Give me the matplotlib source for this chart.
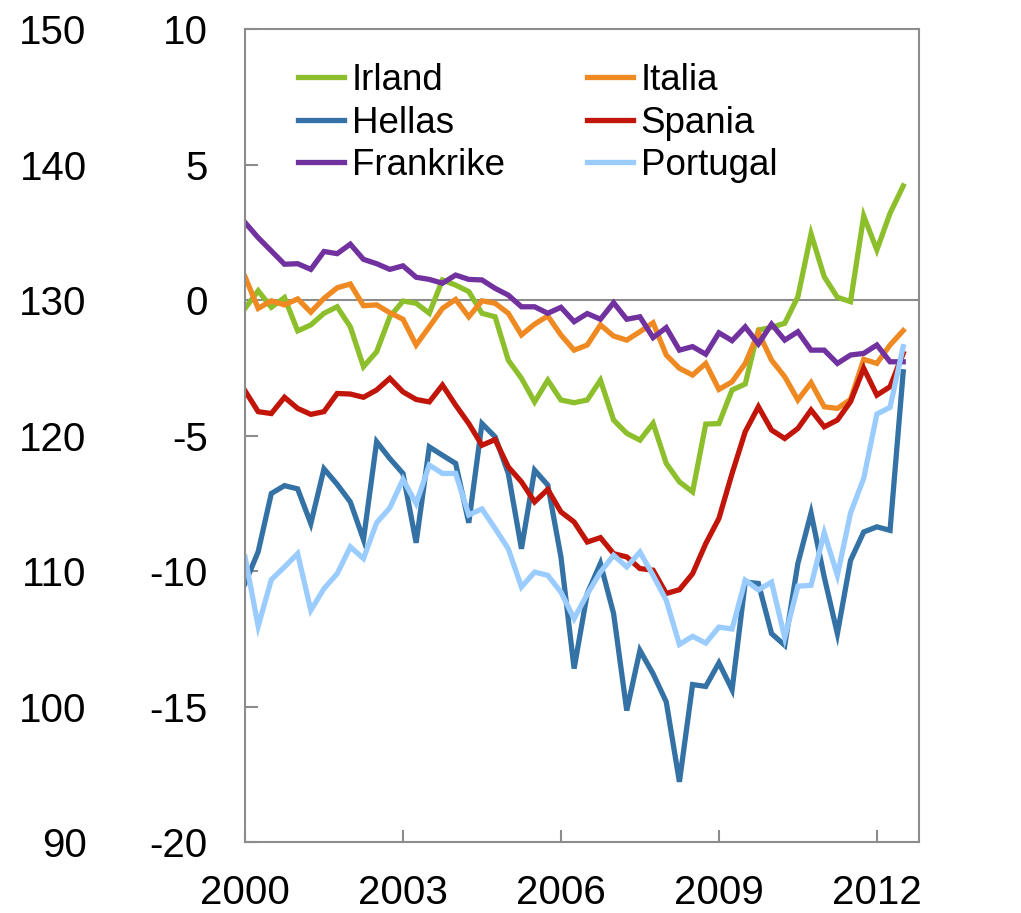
import numpy as np
import matplotlib
matplotlib.use('Agg')
import matplotlib.pyplot as plt

plt.rcParams['font.family'] = ['Liberation Sans', 'DejaVu Sans']
plt.rcParams['axes.unicode_minus'] = False

# quarterly, 2000Q1 - 2012Q3
quarters = 2000 + np.arange(51) / 4

irland = [-0.31, 0.34, -0.27, 0.09, -1.14, -0.92, -0.49, -0.25, -0.99, -2.46, -1.91, -0.62, -0.04,
          -0.12, -0.49, 0.74, 0.55, 0.31, -0.49, -0.62, -2.22, -2.89, -3.76, -2.96, -3.69, -3.79,
          -3.69, -2.96, -4.43, -4.92, -5.17, -4.55, -6.03, -6.71, -7.08, -4.58, -4.56, -3.32, -3.10,
          -1.11, -1.01, -0.86, 0.12, 2.44, 0.86, 0.10, -0.06, 3.10, 1.85, 3.20, 4.21]
italia = [0.86, -0.31, -0.03, -0.18, 0.04, -0.45, 0.06, 0.45, 0.59, -0.21, -0.18, -0.47, -0.71,
          -1.66, -0.99, -0.31, 0.02, -0.62, -0.03, -0.12, -0.49, -1.29, -0.89, -0.59, -1.29, -1.85,
          -1.66, -0.92, -1.33, -1.48, -1.17, -0.84, -2.03, -2.52, -2.77, -2.34, -3.30, -3.02, -2.34,
          -1.20, -2.22, -2.83, -3.69, -3.05, -3.94, -4.00, -3.67, -2.19, -2.34, -1.66, -1.13]
hellas = [-10.46, -9.29, -7.14, -6.85, -6.97, -8.25, -6.23, -6.80, -7.45, -8.84, -5.23, -5.85, -6.40,
          -8.96, -5.42, -5.73, -6.03, -8.22, -4.56, -5.05, -6.40, -9.18, -6.28, -6.83, -9.48, -13.60,
          -10.83, -9.72, -11.57, -15.15, -12.93, -13.79, -14.83, -17.78, -14.19, -14.26, -13.39,
          -14.38, -10.41, -10.46, -12.31, -12.74, -9.72, -7.86, -10.22, -12.31, -9.61, -8.56, -8.37,
          -8.50, -2.65]
spania = [-3.35, -4.12, -4.19, -3.59, -4.00, -4.22, -4.12, -3.45, -3.47, -3.59, -3.32, -2.89, -3.39,
          -3.67, -3.76, -3.14, -3.88, -4.56, -5.36, -5.15, -6.16, -6.71, -7.45, -6.99, -7.82, -8.19,
          -8.93, -8.77, -9.36, -9.48, -9.91, -9.97, -10.83, -10.69, -10.10, -8.99, -8.06, -6.40,
          -4.86, -3.94, -4.80, -5.11, -4.74, -4.06, -4.68, -4.43, -3.75, -2.52, -3.51, -3.20, -1.97]
frankrike = [2.86, 2.30, 1.81, 1.32, 1.34, 1.13, 1.79, 1.71, 2.06, 1.50, 1.34, 1.13, 1.26, 0.84, 0.76,
             0.62, 0.92, 0.76, 0.74, 0.43, 0.18, -0.25, -0.25, -0.49, -0.27, -0.80, -0.50, -0.71,
             -0.10, -0.71, -0.62, -1.39, -1.02, -1.85, -1.72, -2.00, -1.21, -1.50, -0.99, -1.62,
             -0.89, -1.48, -1.17, -1.85, -1.85, -2.34, -2.03, -1.97, -1.66, -2.28, -2.28]
portugal = [-9.48, -12.04, -10.32, -9.85, -9.36, -11.45, -10.65, -10.10, -9.11, -9.54, -8.22, -7.67,
            -6.62, -7.51, -6.09, -6.40, -6.40, -7.93, -7.71, -8.43, -9.18, -10.59, -10.04, -10.16,
            -10.78, -11.76, -10.85, -10.04, -9.42, -9.85, -9.30, -10.16, -11.08, -12.71, -12.41,
            -12.66, -12.07, -12.14, -10.34, -10.70, -10.41, -12.46, -10.56, -10.53, -8.59, -10.16,
            -7.86, -6.58, -4.21, -3.96, -1.72]

series = [('Irland', irland, '#8DBF2C'), ('Italia', italia, '#EF8A23'),
          ('Hellas', hellas, '#3472A6'), ('Spania', spania, '#C01508'),
          ('Frankrike', frankrike, '#7132A0'), ('Portugal', portugal, '#9ACCFF')]

grey = '#8C8C8C'
fig = plt.figure(figsize=(10.21, 9.13), dpi=100)
ax = fig.add_axes([245 / 1021, 1 - 842 / 913, 674 / 1021, 813 / 913])

ax.axhline(0, color=grey, lw=1.5, zorder=1)
lines = {}
for name, vals, col in series:
    lines[name], = ax.plot(quarters, vals, color=col, lw=3.8, solid_joinstyle='miter', zorder=2)

ax.set_xlim(2000, 2012.8)
ax.set_ylim(-20, 10)
ax.set_yticks(range(-20, 11, 5))
ax.set_xticks(range(2000, 2013, 3))

for s in ax.spines.values():
    s.set_color(grey)
    s.set_linewidth(1.5)

ax.tick_params(axis='y', direction='in', length=9, width=1.5, color=grey,
               labelsize=29, pad=27, right=True, labelright=True)
ax.tick_params(axis='x', direction='in', length=9, width=1.5, color=grey,
               labelsize=29, pad=23)

# outer left scale
ax2 = ax.twinx()
ax2.set_ylim(90, 150)
ax2.set_yticks(range(90, 151, 10))
ax2.yaxis.set_ticks_position('left')
ax2.yaxis.set_label_position('left')
ax2.tick_params(axis='y', length=0, labelsize=29, pad=114)
for s in ax2.spines.values():
    s.set_visible(False)

order = ['Irland', 'Hellas', 'Frankrike', 'Italia', 'Spania', 'Portugal']
ax.legend([lines[n] for n in order], order, ncol=2, frameon=False, fontsize=26.5,
          loc='upper left', bbox_to_anchor=(0.057, 0.976), handlelength=1.25,
          handletextpad=0.2, columnspacing=2.25, labelspacing=0.2, borderaxespad=0)

fig.savefig('out.png', dpi=100)
